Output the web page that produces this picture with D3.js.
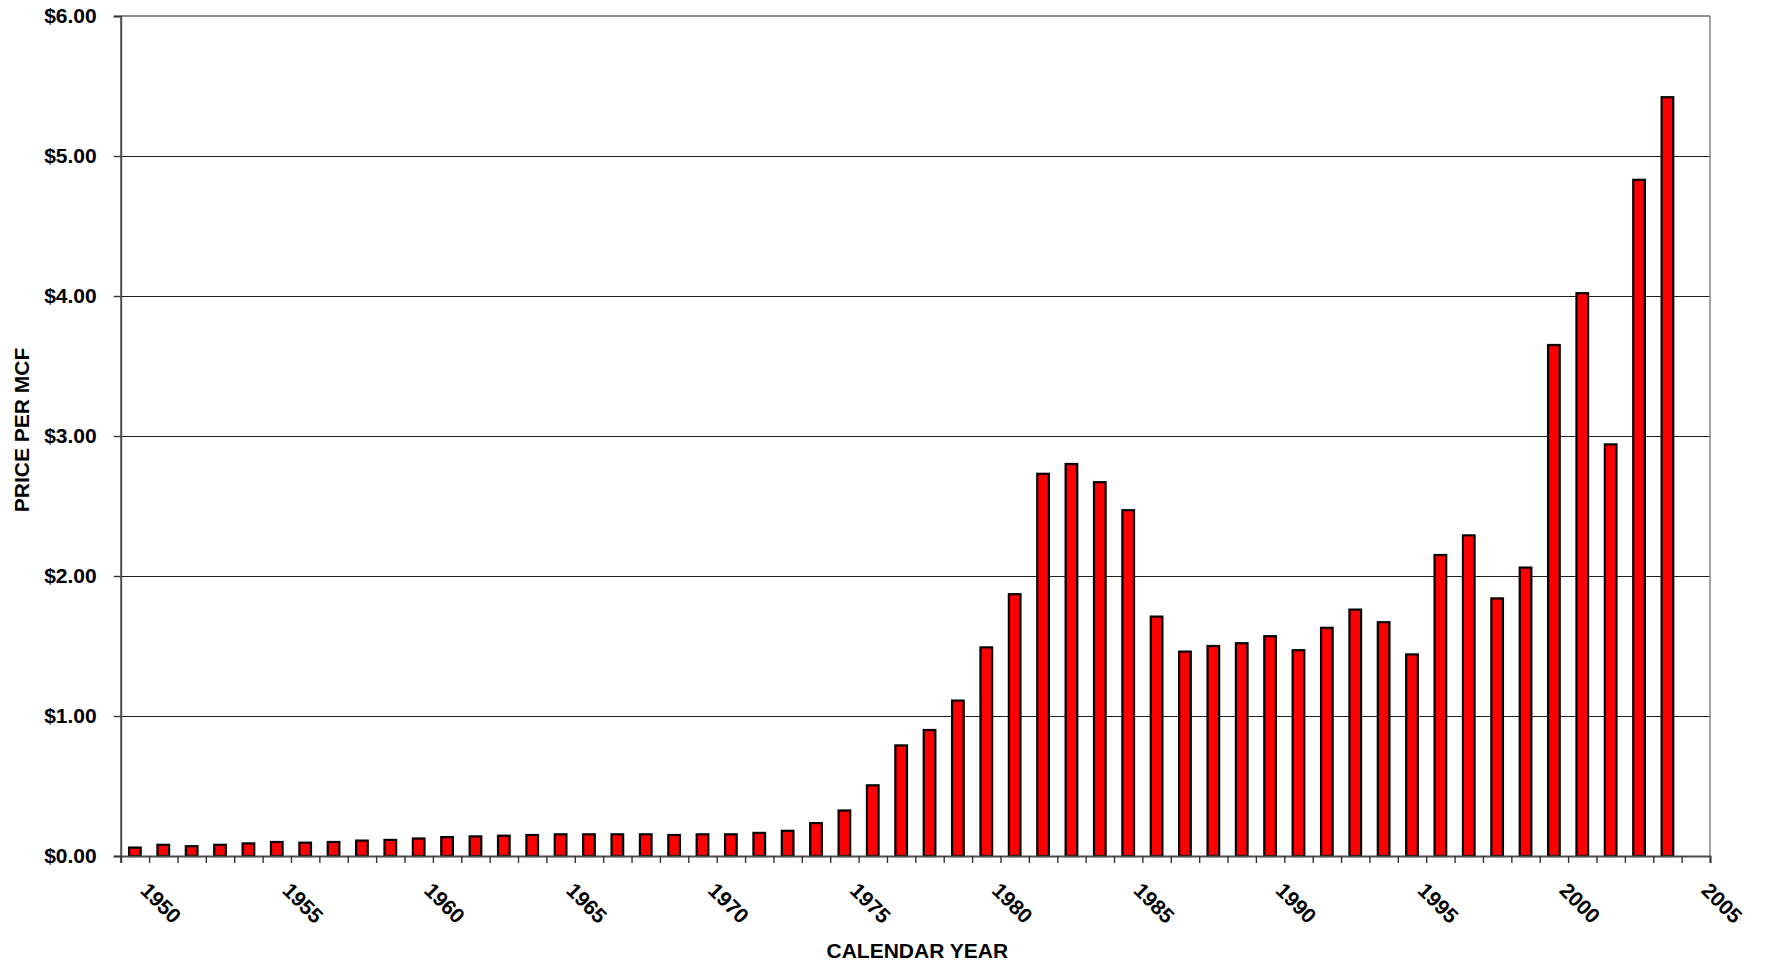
<!DOCTYPE html>
<html>
<head>
<meta charset="utf-8">
<script src="https://cdn.jsdelivr.net/npm/d3@7"></script>
<style>
  html, body { margin: 0; padding: 0; background: #ffffff; }
  svg { display: block; }
  text { font-family: "Liberation Sans", Arial, sans-serif; font-weight: bold; fill: #000; }
</style>
</head>
<body>
<svg id="chart" width="1765" height="965"></svg>
<script>
// ---- data ----
const years = [1949, 1950, 1951, 1952, 1953, 1954, 1955, 1956, 1957, 1958,
               1959, 1960, 1961, 1962, 1963, 1964, 1965, 1966, 1967, 1968,
               1969, 1970, 1971, 1972, 1973, 1974, 1975, 1976, 1977, 1978,
               1979, 1980, 1981, 1982, 1983, 1984, 1985, 1986, 1987, 1988,
               1989, 1990, 1991, 1992, 1993, 1994, 1995, 1996, 1997, 1998,
               1999, 2000, 2001, 2002, 2003];
const prices = [0.06, 0.08, 0.07, 0.08, 0.09, 0.10, 0.095, 0.10, 0.11, 0.115,
                0.125, 0.135, 0.14, 0.145, 0.15, 0.155, 0.155, 0.155, 0.155, 0.15,
                0.155, 0.155, 0.165, 0.18, 0.235, 0.325, 0.505, 0.79, 0.90, 1.11,
                1.49, 1.87, 2.73, 2.80, 2.67, 2.47, 1.71, 1.46, 1.50, 1.52,
                1.57, 1.47, 1.63, 1.76, 1.67, 1.44, 2.15, 2.29, 1.84, 2.06,
                3.65, 4.02, 2.94, 4.83, 5.42];
const xTickLabels = [1950, 1955, 1960, 1965, 1970, 1975, 1980, 1985, 1990, 1995, 2000, 2005];
const yTickValues = [0, 1, 2, 3, 4, 5, 6];
const xTitle = "CALENDAR YEAR";
const yTitle = "PRICE PER MCF";

// ---- layout ----
const plotL = 120.7, plotR = 1710, plotT = 16, plotB = 856;
const svg = d3.select("#chart");

const x = d3.scaleLinear().domain([1949, 2005]).range([plotL, plotR]);
const y = d3.scaleLinear().domain([0, 6]).range([plotB, plotT]);
const step = x(1950) - x(1949);
const barW = step * 0.41;

// gridlines
svg.append("g")
  .selectAll("line")
  .data(yTickValues.filter(v => v > 0 && v < 6))
  .join("line")
  .attr("x1", plotL).attr("x2", plotR)
  .attr("y1", d => y(d) + 0.5).attr("y2", d => y(d) + 0.5)
  .attr("stroke", "#1f1f1f").attr("stroke-width", 1);

// plot border (top & right)
svg.append("line").attr("x1", plotL).attr("x2", plotR).attr("y1", y(6)).attr("y2", y(6))
  .attr("stroke", "#8c8c8c").attr("stroke-width", 2.2);
svg.append("line").attr("x1", plotR).attr("x2", plotR).attr("y1", plotT).attr("y2", plotB)
  .attr("stroke", "#8c8c8c").attr("stroke-width", 1.6);

// bars
svg.append("g")
  .selectAll("rect")
  .data(years.map((yr, i) => ({ yr, v: prices[i] })))
  .join("rect")
  .attr("x", d => x(d.yr + 0.5) - barW / 2)
  .attr("width", barW)
  .attr("y", d => y(d.v))
  .attr("height", d => y(0) - y(d.v))
  .attr("fill", "#ff0000")
  .attr("stroke", "#000")
  .attr("stroke-width", 2.2);

// y axis
const yAxis = d3.axisLeft(y)
  .tickValues(yTickValues)
  .tickSize(7)
  .tickPadding(17)
  .tickFormat(d => "$" + d3.format(".2f")(d));
const gy = svg.append("g").attr("transform", `translate(${plotL},0)`).call(yAxis);
gy.select(".domain").attr("stroke", "#4d4d4d").attr("stroke-width", 2);
gy.selectAll(".tick line").attr("stroke", "#333").attr("stroke-width", 1.4);
gy.selectAll(".tick text")
  .style("font-size", "21px").style("font-family", "'Liberation Sans', Arial, sans-serif")
  .style("font-weight", "bold").attr("fill", "#000");

// x axis: ticks at every year boundary
const xAxis = d3.axisBottom(x)
  .tickValues(d3.range(1949, 2006))
  .tickSize(7)
  .tickFormat("");
const gx = svg.append("g").attr("transform", `translate(0,${plotB})`).call(xAxis);
gx.select(".domain").attr("stroke", "#4d4d4d").attr("stroke-width", 2);
gx.selectAll(".tick line").attr("stroke", "#333").attr("stroke-width", 1.4);

// x tick labels rotated
svg.append("g")
  .selectAll("text")
  .data(xTickLabels)
  .join("text")
  .attr("transform", d => `translate(${x(d) + 12},${plotB + 47}) rotate(45)`)
  .attr("text-anchor", "middle")
  .attr("dominant-baseline", "central")
  .style("font-size", "21px")
  .text(d => d);

// axis titles
svg.append("text")
  .attr("x", (plotL + plotR) / 2 + 2).attr("y", 958)
  .attr("text-anchor", "middle")
  .style("font-size", "21px")
  .text(xTitle);

svg.append("text")
  .attr("transform", `translate(29,${(plotT + plotB) / 2 - 6}) rotate(-90)`)
  .attr("text-anchor", "middle")
  .style("font-size", "21px")
  .text(yTitle);
</script>
</body>
</html>
